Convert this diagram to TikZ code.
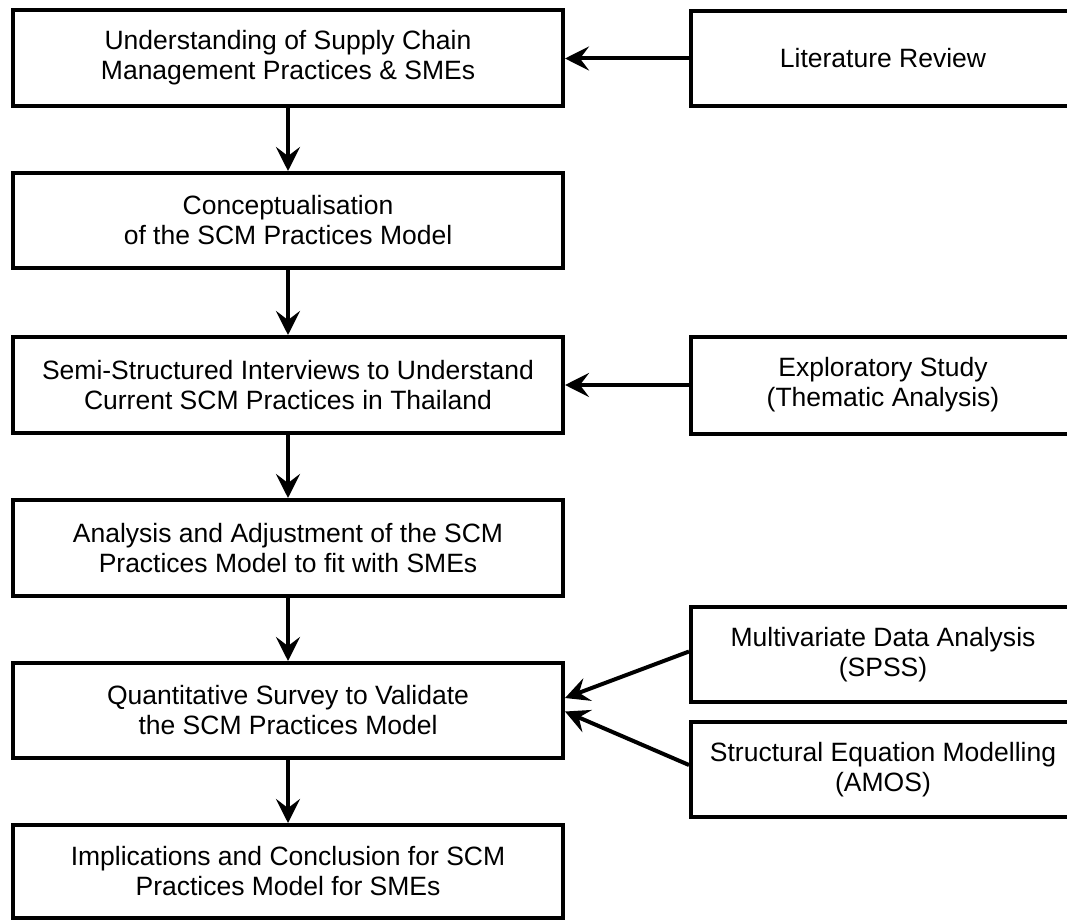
\documentclass[tikz,border=0pt]{standalone}
\usepackage{fontspec}
\setmainfont{Liberation Sans}
\usetikzlibrary{arrows.meta,calc}
\begin{document}
\begin{tikzpicture}[x=1pt,y=-1pt,
  flowbox/.style={draw=black, line width=4pt, fill=white, align=center,
    inner sep=0pt, font=\fontsize{26.5}{30}\selectfont},
  mainbox/.style={flowbox, minimum width=550pt},
  sidebox/.style={flowbox, minimum width=384pt},
  flow/.style={line width=4pt, -{Stealth[length=24pt,width=24pt,inset=9pt]}}]
  \useasboundingbox (0,0) rectangle (1067,920);
  \begin{scope}
  \clip (0,0) rectangle (1067,920);
  % main sequence of research stages
  \node[mainbox, minimum height=96pt] (b1) at (288,58)
    {Understanding of Supply Chain\\Management Practices \& SMEs};
  \node[mainbox, minimum height=95pt] (b2) at (288,220.5)
    {Conceptualisation\\of the SCM Practices Model};
  \node[mainbox, minimum height=96pt] (b3) at (288,385)
    {Semi-Structured Interviews to Understand\\Current SCM Practices in Thailand};
  \node[mainbox, minimum height=96pt] (b4) at (288,548)
    {Analysis and Adjustment of the SCM\\Practices Model to fit with SMEs};
  \node[mainbox, minimum height=95pt] (b5) at (288,710.5)
    {Quantitative Survey to Validate\\the SCM Practices Model};
  \node[mainbox, minimum height=93pt] (b6) at (288,871.5)
    {Implications and Conclusion for SCM\\Practices Model for SMEs};
  % methods feeding the stages
  \node[sidebox, minimum height=95pt] (r1) at (883,58.5) {Literature Review};
  \node[sidebox, minimum height=97pt] (r2) at (883,385)
    {Exploratory Study\\(Thematic Analysis)};
  \node[sidebox, minimum height=95pt] (r3) at (883,654.5)
    {Multivariate Data Analysis\\(SPSS)};
  \node[sidebox, minimum height=95pt] (r4) at (883,769.5)
    {Structural Equation Modelling\\(AMOS)};
  % connectors
  \draw[flow] (b1) -- (b2);
  \draw[flow] (b2) -- (b3);
  \draw[flow] (b3) -- (b4);
  \draw[flow] (b4) -- (b5);
  \draw[flow] (b5) -- (b6);
  \draw[flow] (r1.west) -- (r1.west -| b1.east);
  \draw[flow] (r2.west) -- (b3.east);
  \draw[flow] ($(r3.west)+(0,-3)$) -- ($(b5.east)+(0,-12.5)$);
  \draw[flow] ($(r4.west)+(0,-4.5)$) -- ($(b5.east)+(0,1)$);
  \end{scope}
\end{tikzpicture}
\end{document}
